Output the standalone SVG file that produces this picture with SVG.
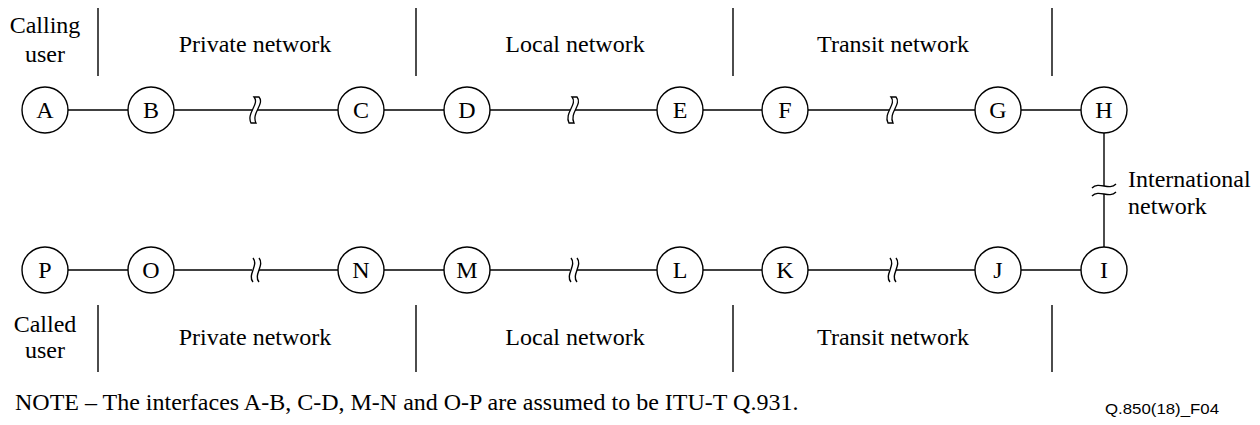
<svg xmlns="http://www.w3.org/2000/svg" width="1260" height="425" viewBox="0 0 1260 425">
<style>
.t{font-family:'Liberation Serif','Times New Roman',serif;font-size:24px;fill:#000}
.c{text-anchor:middle}
.n circle{fill:#fff;stroke:#000;stroke-width:1.4}
.ln{stroke:#000;stroke-width:1.4;fill:none}
.brk{fill:#fff;stroke:#000;stroke-width:1.3}
.s{font-family:'Liberation Sans',Arial,sans-serif;font-size:15px;fill:#000}
</style>
<rect width="1260" height="425" fill="#fff"/>
<g id="dividers" class="ln">
<line x1="98" y1="8" x2="98" y2="76"/><line x1="416" y1="8" x2="416" y2="76"/><line x1="733" y1="8" x2="733" y2="76"/><line x1="1052" y1="8" x2="1052" y2="76"/>
<line x1="98" y1="305" x2="98" y2="372"/><line x1="416" y1="305" x2="416" y2="372"/><line x1="733" y1="305" x2="733" y2="372"/><line x1="1052" y1="305" x2="1052" y2="372"/>
</g>
<g id="labels" class="t c">
<text x="45" y="33">Calling</text><text x="45" y="62">user</text>
<text x="255" y="52">Private network</text>
<text x="575" y="52">Local network</text>
<text x="893" y="52">Transit network</text>
<text x="45" y="332">Called</text><text x="45" y="358">user</text>
<text x="255" y="345">Private network</text>
<text x="575" y="345">Local network</text>
<text x="893" y="345">Transit network</text>
</g>
<g id="intl-label" class="t">
<text x="1128" y="187">International</text><text x="1128" y="214">network</text>
</g>
<g id="connectors">
<g class="ln">
<line x1="45" y1="110" x2="1104" y2="110"/>
<line x1="45" y1="270" x2="252" y2="270"/><line x1="259" y1="270" x2="570" y2="270"/><line x1="577" y1="270" x2="889" y2="270"/><line x1="896" y1="270" x2="1104" y2="270"/>
<line x1="1104" y1="110" x2="1104" y2="186"/><line x1="1104" y1="194" x2="1104" y2="270"/>
</g>
<path class="brk" d="M254,97 L259,97 C265,104 251,113 256,123 L251,123 C246,113 260,104 254,97 Z"/>
<path class="brk" d="M572,97 L577,97 C583,104 569,113 574,123 L569,123 C564,113 578,104 572,97 Z"/>
<path class="brk" d="M891,97 L896,97 C902,104 888,113 893,123 L888,123 C883,113 897,104 891,97 Z"/>
<g class="ln">
<path d="M253,258 C259,265 247,275 253,282"/><path d="M259,258 C265,265 253,275 259,282"/>
<path d="M571,258 C577,265 565,275 571,282"/><path d="M577,258 C583,265 571,275 577,282"/>
<path d="M890,258 C896,265 884,275 890,282"/><path d="M896,258 C902,265 890,275 896,282"/>
<path d="M1092,188 C1099,181 1109,191 1116,184"/><path d="M1092,196 C1099,189 1109,199 1116,192"/>
</g>
</g>
<g class="n t c">
<g id="A"><circle cx="45" cy="110" r="23"/><text x="45" y="118">A</text></g>
<g id="B"><circle cx="151" cy="110" r="23"/><text x="151" y="118">B</text></g>
<g id="C"><circle cx="361" cy="110" r="23"/><text x="361" y="118">C</text></g>
<g id="D"><circle cx="467" cy="110" r="23"/><text x="467" y="118">D</text></g>
<g id="E"><circle cx="680" cy="110" r="23"/><text x="680" y="118">E</text></g>
<g id="F"><circle cx="785" cy="110" r="23"/><text x="785" y="118">F</text></g>
<g id="G"><circle cx="998" cy="110" r="23"/><text x="998" y="118">G</text></g>
<g id="H"><circle cx="1104" cy="110" r="23"/><text x="1104" y="118">H</text></g>
<g id="P"><circle cx="45" cy="270" r="23"/><text x="45" y="278">P</text></g>
<g id="O"><circle cx="151" cy="270" r="23"/><text x="151" y="278">O</text></g>
<g id="N"><circle cx="361" cy="270" r="23"/><text x="361" y="278">N</text></g>
<g id="M"><circle cx="467" cy="270" r="23"/><text x="467" y="278">M</text></g>
<g id="L"><circle cx="680" cy="270" r="23"/><text x="680" y="278">L</text></g>
<g id="K"><circle cx="785" cy="270" r="23"/><text x="785" y="278">K</text></g>
<g id="J"><circle cx="998" cy="270" r="23"/><text x="998" y="278">J</text></g>
<g id="I"><circle cx="1104" cy="270" r="23"/><text x="1104" y="278">I</text></g>
</g>
<g id="note">
<text class="t" x="15" y="410">NOTE – The interfaces A-B, C-D, M-N and O-P are assumed to be ITU-T Q.931.</text>
<text class="s" x="1105" y="414" textLength="114" lengthAdjust="spacingAndGlyphs">Q.850(18)_F04</text>
</g>
</svg>
